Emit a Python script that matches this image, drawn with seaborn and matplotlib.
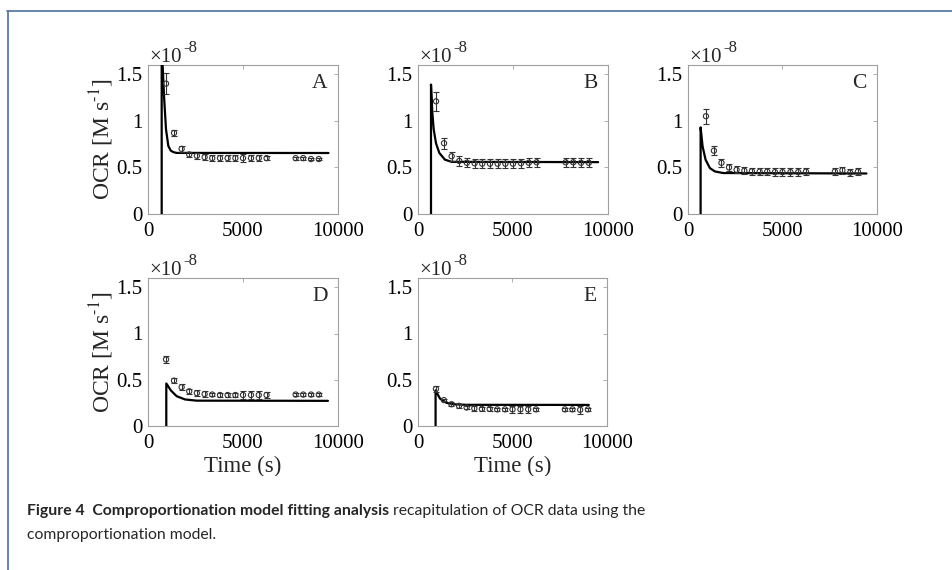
import numpy as np
import pandas as pd
import matplotlib
matplotlib.use("Agg")
import matplotlib.pyplot as plt
import seaborn as sns
from matplotlib.lines import Line2D

# ---------------- data (OCR in units of 1e-8 M/s) ----------------
time_s = [950, 1370, 1770, 2170, 2570, 2980, 3380, 3790, 4190, 4600,
          5000, 5420, 5830, 6240, 7770, 8170, 8580, 8990]

ocr_A = [1.40, 0.87, 0.70, 0.64, 0.625, 0.61, 0.60, 0.60, 0.60, 0.60,
         0.60, 0.60, 0.60, 0.60, 0.60, 0.60, 0.59, 0.59]
err_A = [0.11, 0.03, 0.03, 0.03, 0.03, 0.03, 0.03, 0.03, 0.03, 0.03,
         0.04, 0.03, 0.03, 0.02, 0.015, 0.015, 0.015, 0.015]
ocr_B = [1.21, 0.76, 0.62, 0.57, 0.55, 0.545, 0.54, 0.54, 0.54, 0.54,
         0.54, 0.545, 0.55, 0.555, 0.555, 0.555, 0.55, 0.55]
err_B = [0.10, 0.06, 0.05, 0.05, 0.05, 0.05, 0.05, 0.05, 0.05, 0.05,
         0.05, 0.05, 0.05, 0.05, 0.05, 0.05, 0.05, 0.05]
ocr_C = [1.05, 0.68, 0.55, 0.50, 0.475, 0.465, 0.458, 0.455, 0.455, 0.45,
         0.45, 0.45, 0.45, 0.455, 0.455, 0.47, 0.445, 0.455]
err_C = [0.08, 0.045, 0.04, 0.04, 0.04, 0.04, 0.04, 0.04, 0.04, 0.04,
         0.04, 0.04, 0.04, 0.04, 0.04, 0.04, 0.04, 0.04]
ocr_D = [0.72, 0.49, 0.42, 0.375, 0.355, 0.345, 0.34, 0.335, 0.335, 0.335,
         0.335, 0.335, 0.335, 0.335, 0.34, 0.34, 0.34, 0.34]
err_D = [0.04, 0.03, 0.03, 0.03, 0.03, 0.03, 0.02, 0.02, 0.02, 0.02,
         0.04, 0.04, 0.04, 0.03, 0.02, 0.02, 0.02, 0.02]
ocr_E = [0.40, 0.28, 0.235, 0.218, 0.20, 0.19, 0.185, 0.185, 0.18, 0.18,
         0.18, 0.18, 0.18, 0.18, 0.18, 0.18, 0.175, 0.18]
err_E = [0.03, 0.015, 0.02, 0.02, 0.02, 0.025, 0.025, 0.025, 0.02, 0.02,
         0.04, 0.04, 0.04, 0.015, 0.015, 0.015, 0.04, 0.02]

# model curves
fit_t_A = [720, 720, 770, 842, 947, 1070, 1200, 1333, 1500, 9500]
fit_v_A = [0, 1.8, 1.6, 1.27, 0.91, 0.73, 0.68, 0.665, 0.656, 0.655]
fit_t_B = [684, 684, 754, 825, 947, 1123, 1420, 1770, 9480]
fit_v_B = [0, 1.39, 1.09, 0.91, 0.76, 0.655, 0.583, 0.56, 0.557]
fit_t_C = [667, 667, 772, 930, 1158, 1421, 1860, 9440]
fit_v_C = [0, 0.93, 0.726, 0.583, 0.493, 0.457, 0.44, 0.435]
fit_t_D = [963, 963, 1210, 1510, 1950, 2560, 9470]
fit_v_D = [0, 0.46, 0.383, 0.322, 0.287, 0.274, 0.272]
fit_t_E = [930, 930, 1160, 1510, 1950, 2600, 9040]
fit_v_E = [0, 0.385, 0.297, 0.25, 0.234, 0.229, 0.228]

panel_labels = ["A", "B", "C", "D", "E"]
x_ticks = [0, 5000, 10000]
x_ticklabels = ["0", "5000", "10000"]
y_ticks = [0, 0.5, 1, 1.5]
y_ticklabels = ["0", "0.5", "1", "1.5"]

caption_bold = "Figure 4  Comproportionation model fitting analysis"
caption_rest = " recapitulation of OCR data using the"
caption_line2 = "comproportionation model."

# ---------------- style ----------------
sns.set_theme(style="white")
plt.rcParams["font.family"] = ["Liberation Serif", "DejaVu Serif"]
plt.rcParams["mathtext.fontset"] = "stix"

W, H = 953, 570
fig = plt.figure(figsize=(W / 100, H / 100), dpi=100)

def ax_rect(left, top, right, bottom):
    return [left / W, 1 - bottom / H, (right - left) / W, (bottom - top) / H]

rects = [ax_rect(148, 65, 338, 214), ax_rect(418, 65, 608, 214),
         ax_rect(688, 65, 877, 214), ax_rect(148, 278, 338, 426),
         ax_rect(418, 278, 607, 426)]

ocr = [ocr_A, ocr_B, ocr_C, ocr_D, ocr_E]
errs = [err_A, err_B, err_C, err_D, err_E]
fit_t = [fit_t_A, fit_t_B, fit_t_C, fit_t_D, fit_t_E]
fit_v = [fit_v_A, fit_v_B, fit_v_C, fit_v_D, fit_v_E]

spine_col = "#a0a0a0"
exp_base = []
for i in range(5):
    ax = fig.add_axes(rects[i])
    df_fit = pd.DataFrame({"t": fit_t[i], "v": fit_v[i]})
    sns.lineplot(data=df_fit, x="t", y="v", ax=ax, color="black", lw=1.6,
                 sort=False, estimator=None, zorder=3)
    ax.errorbar(time_s, ocr[i], yerr=errs[i], fmt="none", ecolor="#333333",
                elinewidth=0.8, capsize=2.5, capthick=0.8, zorder=4)
    df_pts = pd.DataFrame({"t": time_s, "v": ocr[i]})
    sns.scatterplot(data=df_pts, x="t", y="v", ax=ax, marker="o", s=14,
                    facecolor="none", edgecolor="#333333", linewidth=0.8,
                    zorder=5)
    ax.set_xlim(0, 10000)
    ax.set_ylim(0, 1.6)
    ax.set_xticks(x_ticks)
    ax.set_xticklabels(x_ticklabels)
    ax.set_yticks(y_ticks)
    ax.set_yticklabels(y_ticklabels)
    ax.tick_params(direction="in", length=3, width=0.6, color=spine_col,
                   labelsize=15, top=True, right=True, pad=4,
                   labelcolor="black")
    ax.tick_params(axis="x", pad=6)
    for sp in ax.spines.values():
        sp.set_color(spine_col)
        sp.set_linewidth(0.8)
    ax.set_xlabel("")
    ax.set_ylabel("")
    ax.text(0.945, 0.94, panel_labels[i], transform=ax.transAxes,
            ha="right", va="top", fontsize=15.5)
    # MATLAB-style exponent label: "×10" with superscript "-8"
    base = ax.annotate("\u00d710", xy=(0, 1), xycoords="axes fraction",
                       xytext=(1, 3), textcoords="offset pixels",
                       ha="left", va="baseline", fontsize=15)
    exp_base.append((ax, base))
    if i in (0, 3):
        ax.set_ylabel(r"OCR [M s$^{\text{-1}}$]", fontsize=17, labelpad=0)
    if i in (3, 4):
        ax.set_xlabel("Time (s)", fontsize=16.5, labelpad=2)

fig.canvas.draw()
renderer = fig.canvas.get_renderer()
for ax, base in exp_base:
    bb = base.get_window_extent(renderer)
    axbb = ax.get_window_extent(renderer)
    ax.annotate("-8", xy=(0, 1), xycoords="axes fraction",
                xytext=(bb.x1 - axbb.x0 + 1.5, 13), textcoords="offset pixels",
                ha="left", va="baseline", fontsize=12)

# crop of the bottom of the chart image (as in reference)
fig.add_artist(plt.Rectangle((0, 0), 1, 1 - 476 / H, transform=fig.transFigure,
                             facecolor="white", edgecolor="none", zorder=10))

# caption
cap_font = ["Lato", "DejaVu Sans"]
cap_size = 11.3
t1 = fig.text(27 / W, 1 - 511 / H, caption_bold, fontsize=cap_size, fontweight="bold",
              family=cap_font, ha="left", va="center", zorder=11)
bb1 = t1.get_window_extent(renderer)
fig.text(bb1.x1 / W, 1 - 511 / H, caption_rest, fontsize=cap_size, family=cap_font,
         ha="left", va="center", zorder=11)
fig.text(27 / W, 1 - 535 / H, caption_line2, fontsize=cap_size, family=cap_font,
         ha="left", va="center", zorder=11)

# page frame lines
frame_col = "#5b7ba3"
fig.add_artist(Line2D([7 / W, 952 / W], [1 - 11 / H, 1 - 11 / H],
                      transform=fig.transFigure, color=frame_col, lw=1.3, zorder=12))
fig.add_artist(Line2D([8 / W, 8 / W], [1 - 11 / H, 0],
                      transform=fig.transFigure, color=frame_col, lw=1.3, zorder=12))

fig.savefig("out.png", dpi=100)
